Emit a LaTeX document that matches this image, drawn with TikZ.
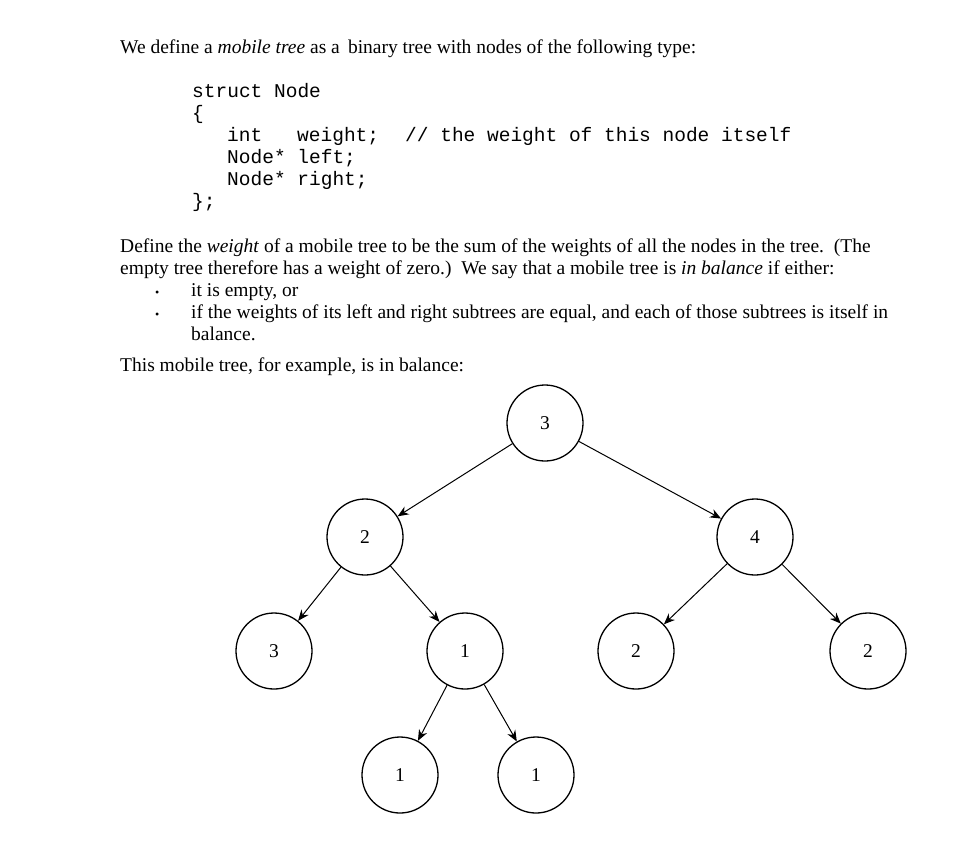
\documentclass[tikz,border=0pt]{standalone}
\usepackage{fontspec}
\setmainfont{Liberation Serif}
\setmonofont{Liberation Mono}
\usetikzlibrary{arrows.meta}
\begin{document}
\begin{tikzpicture}[x=1pt,y=-1pt,
  txt/.style={anchor=base west,inner sep=0,font=\fontsize{19.5}{22}\selectfont},
  code/.style={anchor=base west,inner sep=0,font=\fontsize{19.5}{22}\ttfamily},
  tn/.style={circle,draw,line width=1.3pt,minimum size=76pt,inner sep=0,font=\fontsize{19.5}{22}\selectfont},
  edge/.style={-{Stealth[length=11pt,width=9pt]},line width=1pt}]
\useasboundingbox (0,0) rectangle (960,852);
\fill[white] (0,0) rectangle (960,852);
\node[txt] (l1) at (120,53) {We define a \textit{mobile tree} as a\, binary tree with nodes of the following type:};
\node[code] (c1) at (192,97) {struct Node};
\node[code] (c2) at (192,119) {\{};
\node[code] (c3a) at (227,141) {int};
\node[code] (c3b) at (297,141) {weight;};
\node[code] (c3c) at (405,141) {// the weight of this node itself};
\node[code] (c4) at (227,163) {Node* left;};
\node[code] (c5) at (227,185) {Node* right;};
\node[code] (c6) at (192,207) {\};};
\node[txt] (p1) at (120,252) {Define the \textit{weight} of a mobile tree to be the sum of the weights of all the nodes in the tree.\ \ (The};
\node[txt] (p2) at (120,274) {empty tree therefore has a weight of zero.)\ \ We say that a mobile tree is \textit{in balance} if either:};
\node[txt] (b1) at (155,296) {\large\textbullet};
\node[txt] (p3) at (191,296) {it is empty, or};
\node[txt] (b2) at (155,318) {\large\textbullet};
\node[txt] (p4) at (191,318) {if the weights of its left and right subtrees are equal, and each of those subtrees is itself in};
\node[txt] (p5) at (191,340) {balance.};
\node[txt] (p6) at (120,371) {This mobile tree, for example, is in balance:};
\node[tn] (r) at (545,423) {3};
\node[tn] (a) at (365,537) {2};
\node[tn] (b) at (755,537) {4};
\node[tn] (c) at (274,651) {3};
\node[tn] (d) at (465,651) {1};
\node[tn] (e) at (636,651) {2};
\node[tn] (f) at (868,651) {2};
\node[tn] (g) at (400,775) {1};
\node[tn] (h) at (536,775) {1};
\foreach \u/\v in {r/a,r/b,a/c,a/d,b/e,b/f,d/g,d/h}
  \draw[edge] (\u) -- (\v);
\end{tikzpicture}
\end{document}
